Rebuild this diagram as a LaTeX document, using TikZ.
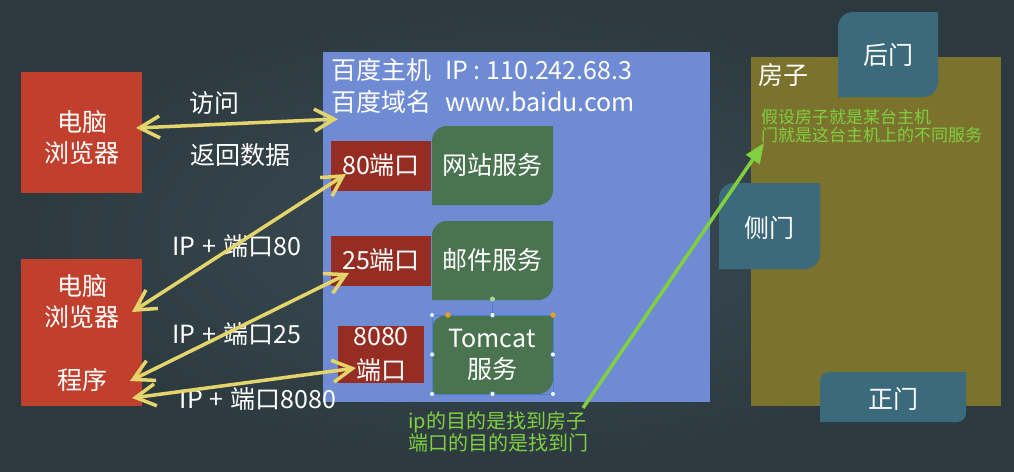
\documentclass[tikz,border=0pt]{standalone}
\usepackage{fontspec}
\setmainfont{Noto Sans CJK SC}
\usetikzlibrary{arrows.meta}
\definecolor{bgin}{HTML}{3C4C52}
\definecolor{bgout}{HTML}{2C3A40}
\definecolor{hostblue}{HTML}{6F8BD3}
\definecolor{pcred}{HTML}{C1402D}
\definecolor{portred}{HTML}{952D22}
\definecolor{svcgreen}{HTML}{4A7450}
\definecolor{houseolive}{HTML}{7B722E}
\definecolor{doorblue}{HTML}{3C6A7D}
\definecolor{yel}{HTML}{E4D46C}
\definecolor{note}{HTML}{80D040}
\definecolor{selblue}{HTML}{4A7FD6}
\definecolor{handleor}{HTML}{E8A020}
\definecolor{handlegr}{HTML}{A8D890}
% diagonal-rounded box: x1 y1 x2 y2 r colour
\newcommand\diagfill[6]{%
  \fill[#6] (#1,#4) -- (#1,{#2+#5}) .. controls (#1,{#2+0.448*#5}) and ({#1+0.448*#5},#2) .. ({#1+#5},#2)
    -- (#3,#2) -- (#3,{#4-#5}) .. controls (#3,{#4-0.448*#5}) and ({#3-0.448*#5},#4) .. ({#3-#5},#4) -- cycle;}
\begin{document}
\begin{tikzpicture}[x=1pt,y=-1pt,
  txt/.style={inner sep=0pt,text=white,font=\fontsize{25}{30}\selectfont,align=center},
  notetxt/.style={inner sep=0pt,text=note,align=left},
  yarrow/.style={draw=yel,line width=3.5pt,
    {Straight Barb[length=20pt,width=22pt]}-{Straight Barb[length=20pt,width=22pt]}},
  garrow/.style={draw=note,line width=3.5pt,-{Triangle[length=20pt,width=16pt]}},
  handle/.style={circle,fill=white,draw=selblue,line width=0.6pt,inner sep=0pt,minimum size=5pt}
]
\useasboundingbox (0,0) rectangle (1014,471);
\shade[inner color=bgin,outer color=bgout] (0,0) rectangle (1014,471);

% host
\fill[hostblue] (323,52) rectangle (710,402);
\node[txt,anchor=west] (hostip) at (331,70) {百度主机\hspace{14pt}IP : 110.242.68.3};
\node[txt,anchor=west] (hostdn) at (331,102) {百度域名\hspace{14pt}www.baidu.com};

% computers
\node[fill=pcred,minimum width=121pt,minimum height=121pt,inner sep=0pt] (pc1) at (81.5,132.5) {};
\node[fill=pcred,minimum width=121pt,minimum height=147pt,inner sep=0pt] (pc2) at (81.5,332.5) {};
\node[txt,font=\fontsize{25}{31}\selectfont] (pc1t) at (82,138) {电脑\\浏览器};
\node[txt,font=\fontsize{25}{31}\selectfont] (pc2t) at (82,302) {电脑\\浏览器};
\node[txt] (pc2p) at (82,380) {程序};

% ports
\fill[portred] (331,141) rectangle (431,191);
\fill[portred] (331,236) rectangle (431,286);
\fill[portred] (338,326) rectangle (424,383);
\node[txt] (p80) at (381,165) {80端口};
\node[txt] (p25) at (381,260) {25端口};
\node[txt,font=\fontsize{25}{34}\selectfont] (p8080) at (381,354) {8080\\端口};

% services
\diagfill{432}{126}{553}{205}{15}{svcgreen}
\diagfill{432}{221}{553}{300}{15}{svcgreen}
\diagfill{432}{315}{553}{394}{15}{svcgreen}
\node[txt] (s80) at (492,165) {网站服务};
\node[txt] (s25) at (492,260) {邮件服务};
\node[txt,font=\fontsize{25}{31}\selectfont] (s8080) at (492,355) {Tomcat\\服务};

% selection handles round the Tomcat box
\draw[selblue,line width=0.6pt] (432,315) rectangle (553,394);
\draw[selblue,line width=0.6pt] (492.5,299) -- (492.5,315);
\node[circle,fill=handlegr,inner sep=0pt,minimum size=5pt] (hrot) at (492.5,299) {};
\node[circle,fill=handleor,inner sep=0pt,minimum size=5.5pt] (hor1) at (448,315) {};
\node[circle,fill=handleor,inner sep=0pt,minimum size=5.5pt] (hor2) at (553,315) {};
\node[handle] (h1) at (432,315) {};
\node[handle] (h2) at (492.5,315) {};
\node[handle] (h3) at (432,354.5) {};
\node[handle] (h4) at (553,354.5) {};
\node[handle] (h5) at (432,394) {};
\node[handle] (h6) at (492.5,394) {};
\node[handle] (h7) at (553,394) {};

% house
\fill[houseolive] (751,57) rectangle (1001,406);
\diagfill{838}{12}{938}{97}{15}{doorblue}
\diagfill{719}{183}{820}{269}{15}{doorblue}
\diagfill{820}{372}{966}{422}{9}{doorblue}
\node[txt] (house) at (783,75) {房子};
\node[txt] (back) at (888,55) {后门};
\node[txt] (side) at (769,228) {侧门};
\node[txt] (front) at (893,399) {正门};
\node[notetxt,anchor=north west,font=\fontsize{17}{18}\selectfont] (housenote) at (761,109) {假设房子就是某台主机\\门就是这台主机上的不同服务};

% labels
\node[txt] (lvisit) at (214,103) {访问};
\node[txt] (lreturn) at (240,155) {返回数据};
\node[txt] (l80) at (237,246) {IP\hspace{7pt}+\hspace{7pt}端口80};
\node[txt] (l25) at (237,334) {IP\hspace{7pt}+\hspace{7pt}端口25};
\node[txt] (l8080) at (258,399) {IP\hspace{7pt}+\hspace{7pt}端口8080};
\node[notetxt,anchor=north west,font=\fontsize{20}{20}\selectfont] (ipnote) at (408,411) {ip的目的是找到房子\\端口的目的是找到门};

% connector ends
\coordinate (a1l) at (136,128);
\coordinate (a1r) at (338,119);
\coordinate (a2l) at (132,312);
\coordinate (a2r) at (346,174);
\coordinate (a3l) at (130,381);
\coordinate (a3r) at (349,273);
\coordinate (a4l) at (132,398);
\coordinate (a4r) at (356,368);
\coordinate (g1) at (583,408);
\coordinate (g2) at (764,143);

\draw[yarrow] (a1l) -- (a1r);
\draw[yarrow] (a2l) -- (a2r);
\draw[yarrow] (a3l) -- (a3r);
\draw[yarrow] (a4l) -- (a4r);
\draw[garrow] (g1) -- (g2);
\end{tikzpicture}
\end{document}
